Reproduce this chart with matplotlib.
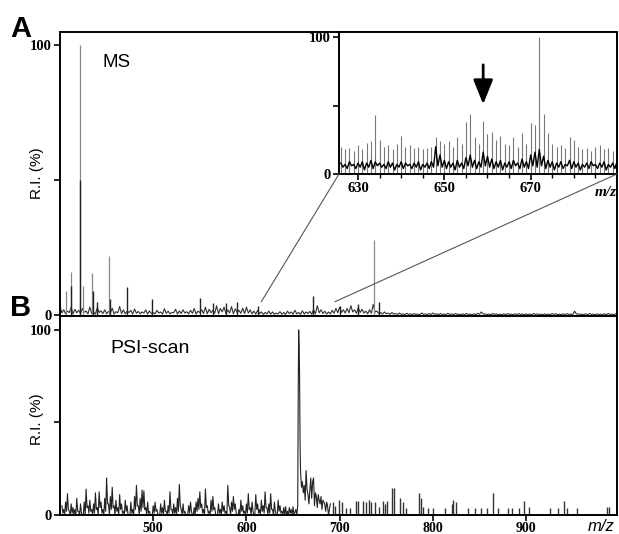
import numpy as np
import matplotlib.pyplot as plt
from matplotlib.patches import ConnectionPatch

plt.rcParams['font.family'] = ['Liberation Sans', 'DejaVu Sans']

# ---- panel A: full MS spectrum ----
ms_base_mz = np.arange(400, 1000, 4)
ms_base_ri = [3.5, 2.0, 1.5, 3.0, 2.2, 1.8, 2.5, 1.5, 3.0, 1.2, 2.8, 1.6, 2.0, 1.4, 2.6, 1.3, 3.2, 2.0, 1.5, 1.8, 2.3, 1.4, 1.2, 2.0, 1.6,
              1.0, 1.8, 1.2, 2.4, 1.5, 1.0, 2.2, 1.6, 2.0, 1.3, 1.8, 2.5, 1.5, 2.0, 3.0, 2.2, 1.8, 3.5, 2.5, 3.0, 2.0, 3.2, 2.4, 1.8, 2.6,
              3.0, 2.0, 1.5, 1.8, 1.2, 1.0, 1.5, 1.2, 0.8, 1.3, 1.0, 1.5, 1.2, 1.8, 1.0, 1.6, 1.2, 1.4, 2.0, 3.5, 2.0, 1.5, 1.2, 1.8, 2.5,
              3.0, 2.0, 2.5, 3.5, 2.0, 2.8, 2.2, 1.5, 2.0, 4.0, 1.5, 1.0, 1.2, 0.8, 1.0, 0.6, 0.8, 0.5, 0.7, 0.5, 0.6, 0.4, 0.8, 0.5, 0.6,
              0.8, 0.5, 0.6, 0.4, 0.7, 0.5, 0.6, 0.4, 0.5, 0.6, 0.4, 0.5, 0.7, 1.2, 0.5, 0.4, 0.6, 0.5, 0.4, 0.5,
              0.6, 0.4, 0.5, 0.6, 0.4, 0.5, 0.4, 0.6, 0.5, 0.4, 0.5, 0.4, 0.6, 0.5, 0.4, 0.5, 0.6, 0.4, 1.5, 0.5,
              0.4, 0.5, 0.6, 0.4, 0.5, 0.4, 0.5, 0.6, 0.4, 0.5]
# valleys between the baseline points (m/z 402, 406, ...)
ms_base_lo = [0.8, 0.5, 1.0, 0.4, 0.9, 0.6, 1.1, 0.5, 0.7, 0.4, 1.0, 0.6, 0.5, 0.8, 0.4, 0.9, 0.6, 0.5, 1.0, 0.4, 0.7, 0.5, 0.8, 0.4, 0.6,
              0.5, 0.8, 0.4, 0.7, 0.5, 0.9, 0.4, 0.6, 0.8, 0.5, 0.7, 0.4, 1.0, 0.6, 0.5, 0.9, 0.7, 0.5, 1.2, 0.6, 0.8, 0.5, 1.0, 0.7, 0.6,
              0.8, 0.5, 0.4, 0.6, 0.3, 0.5, 0.4, 0.3, 0.5, 0.4, 0.3, 0.6, 0.4, 0.5, 0.3, 0.4, 0.6, 0.4, 0.5, 0.9, 0.6, 0.4, 0.5, 0.7, 0.9,
              1.0, 0.8, 0.9, 1.2, 0.7, 1.0, 0.8, 0.5, 0.7, 1.2, 0.5, 0.4, 0.5, 0.3, 0.4, 0.3, 0.3, 0.2, 0.3, 0.2, 0.3, 0.2, 0.3, 0.2, 0.3,
              0.3, 0.2, 0.3, 0.2, 0.3, 0.2, 0.3, 0.2, 0.2, 0.3, 0.2, 0.2, 0.3, 0.4, 0.2, 0.2, 0.3, 0.2, 0.2, 0.2,
              0.3, 0.2, 0.2, 0.3, 0.2, 0.2, 0.2, 0.3, 0.2, 0.2, 0.2, 0.2, 0.3, 0.2, 0.2, 0.2, 0.3, 0.2, 0.4, 0.2,
              0.2, 0.2, 0.3, 0.2, 0.2, 0.2, 0.2, 0.3, 0.2, 0.2]
ms_grey_mz = [406, 411.5, 421, 425, 434.5, 453, 736.5]
ms_grey_ri = [9, 16, 100, 11, 15.5, 22, 28]
ms_dark_mz = [412, 421.6, 435, 440, 454, 472, 499, 550, 564, 578, 590, 612, 671, 700, 720, 742]
ms_dark_ri = [11, 50, 9, 5, 6, 10.5, 6, 6.5, 4.5, 4.5, 5, 3.5, 7, 3.5, 4, 5]
zoom_mz = [616, 695]
zoom_ri = 5

# ---- inset: m/z 626-690 ----
inset_mz = np.arange(626, 691)
inset_ri = [20, 18, 19, 17, 21, 18, 23, 24, 43, 25,
            20, 21, 18, 22, 28, 20, 21, 19, 20, 18,
            19, 20, 27, 24, 22, 24, 20, 27, 22, 38,
            44, 27, 22, 39, 29, 31, 25, 28, 22, 21,
            27, 20, 30, 22, 37, 36, 100, 44, 30, 22,
            20, 21, 19, 27, 25, 20, 18, 19, 17, 20,
            21, 18, 19, 17, 20]
inset_noise_hi = [8, 7, 9, 7, 8, 9, 8, 10, 9, 8,
                  7, 9, 8, 7, 9, 8, 7, 8, 9, 7,
                  8, 9, 20, 14, 10, 9, 8, 10, 8, 12,
                  14, 10, 9, 16, 13, 11, 9, 10, 8, 9,
                  10, 8, 11, 9, 14, 16, 18, 13, 10, 9,
                  8, 9, 7, 10, 9, 8, 7, 8, 9, 7,
                  8, 9, 7, 8, 9]
inset_noise_lo = [5, 4, 6, 4, 5, 3, 5, 4, 6, 5,
                  4, 5, 3, 5, 4, 6, 4, 5, 3, 5,
                  4, 5, 6, 5, 4, 5, 3, 5, 4, 6,
                  5, 4, 5, 6, 5, 4, 5, 3, 5, 4,
                  6, 4, 5, 4, 6, 5, 6, 4, 5, 3,
                  5, 4, 6, 4, 5, 3, 5, 4, 6, 4,
                  5, 3, 5, 4, 5]
arrow_mz = 659

# ---- panel B: PSI-scan ----
psi_noise_mz = np.arange(402, 652, 2)
psi_noise_ri = [5, 3, 7, 11.5, 2, 6, 4, 3, 9, 2,
                6, 0, 7, 14, 5, 8, 3, 6, 12, 4,
                12.5, 7, 3, 9, 20, 6, 10, 15, 5, 8,
                4, 11, 6, 2, 8, 5, 0, 7, 3, 10,
                16, 5, 9, 13.5, 13, 4, 7, 2, 0, 5,
                7, 3, 0, 6, 4, 8, 2, 5, 12.5, 3,
                6, 4, 9, 16.5, 3, 6, 2, 0, 5, 7,
                0, 4, 7, 9, 12.5, 6, 3, 14, 5, 2,
                8, 10, 4, 0, 6, 3, 7, 5, 2, 16,
                4, 7, 10, 6, 0, 3, 8, 5, 2, 6,
                11.5, 4, 7, 0, 11, 6, 3, 8, 5, 12.5,
                4, 6, 11.5, 3, 7, 0, 8, 5, 2, 4,
                4.5, 2, 4, 3, 4.5]
# valleys at m/z 403, 405, ...
psi_noise_lo = [1, 0, 2, 3, 0, 1, 0, 0, 2, 0,
                1, 0, 0, 4, 1, 2, 0, 1, 3, 0,
                4, 1, 0, 2, 6, 0, 3, 4, 0, 2,
                0, 3, 1, 0, 2, 0, 0, 1, 0, 3,
                5, 0, 2, 4, 3, 0, 1, 0, 0, 1,
                2, 0, 0, 1, 0, 2, 0, 1, 3, 0,
                1, 0, 2, 5, 0, 1, 0, 0, 1, 2,
                0, 0, 2, 3, 4, 1, 0, 4, 1, 0,
                2, 3, 0, 0, 1, 0, 2, 1, 0, 5,
                0, 2, 3, 1, 0, 0, 2, 1, 0, 1,
                3, 0, 2, 0, 3, 1, 0, 2, 1, 4,
                0, 1, 3, 0, 2, 0, 2, 1, 0, 0,
                0, 0, 1, 0, 0]
psi_peak_mz = [651, 653, 654, 655, 655.5, 656, 656.5, 657, 657.5, 658,
               659, 660, 661, 662, 663, 664, 665, 666, 667, 668,
               669, 670, 671, 672, 673, 674, 675, 676, 677, 678,
               679, 680, 681, 682, 684, 685, 686, 687, 688, 690]
psi_peak_ri = [0, 3, 0, 5, 60, 100, 92, 75, 40, 24,
               15, 18, 12, 16, 8, 24, 14, 11, 6, 13,
               20, 9, 18, 20, 5, 12, 10, 4, 11, 8,
               6, 10, 3, 8, 6, 2, 7, 5, 0, 6]
psi_stick_mz = [693, 695, 699, 702.5, 707, 711, 717, 720, 725, 728,
                731, 734, 738, 742.5, 747, 749, 751, 756, 758.5, 765,
                768, 771, 785, 787, 789, 794.5, 800, 812.5, 820, 822,
                825, 837.5, 845, 852, 858.5, 864.5, 870, 881, 885, 892,
                897.5, 903, 926, 934.5, 940.5, 944, 955, 987, 989]
psi_stick_ri = [7, 5, 8, 7, 3.6, 3.6, 7.7, 7.7, 7.5, 7,
                8, 7, 7, 4.5, 7.7, 6, 7.7, 14.4, 14.4, 9,
                7, 4, 12, 9, 4.5, 3.6, 3.6, 3.6, 6, 8,
                7, 3.6, 3.6, 3.6, 3.6, 12, 3.6, 3.6, 3.6, 3.6,
                7.7, 4.5, 3.6, 3.6, 7.7, 3.6, 3.6, 4.5, 4.5]

main_ticks = [500, 600, 700, 800, 900]
inset_ticks = [630, 650, 670]

tick_font = dict(family='Liberation Serif', weight='bold', size=10.5)
W, H = 619, 534

fig = plt.figure(figsize=(W / 100, H / 100), dpi=100)


def px_axes(l, t, r, b):
    return fig.add_axes([l / W, (H - b) / H, (r - l) / W, (b - t) / H])


def style(ax, lw=1.4):
    for s in ax.spines.values():
        s.set_linewidth(lw)
    ax.tick_params(direction='out', length=4, width=1.2, pad=2)
    for lab in ax.get_xticklabels() + ax.get_yticklabels():
        lab.set_fontproperties(tick_font)


def interleave(x, hi, lo, step):
    xs = np.ravel(np.column_stack([x, np.asarray(x) + step]))
    ys = np.ravel(np.column_stack([hi, lo]))
    return xs, ys


axA = px_axes(60, 32, 617, 316)
axB = px_axes(60, 316, 617, 515)
axI = px_axes(339, 32, 617, 174)

# panel A
ax_x, ax_y = interleave(ms_base_mz, ms_base_ri, ms_base_lo, 2)
axA.plot(ax_x, ax_y, color='#333333', lw=0.8)
axA.vlines(ms_grey_mz, 0, ms_grey_ri, color='#888888', lw=0.9)
axA.vlines(ms_dark_mz, 0, ms_dark_ri, color='#222222', lw=1.0)
axA.set_xlim(400, 997.5)
axA.set_ylim(-0.3, 105)
axA.set_xticks(main_ticks)
axA.set_xticklabels([])
axA.set_yticks([0, 50, 100])
axA.set_yticklabels(['0', '', '100'])
style(axA)
axA.text(0.077, 0.877, 'MS', transform=axA.transAxes, fontsize=13.5)

# panel B
bx, by = interleave(psi_noise_mz, psi_noise_ri, psi_noise_lo, 1)
axB.plot(bx, by, color='#222222', lw=0.8)
axB.plot(psi_peak_mz, psi_peak_ri, color='#222222', lw=0.8)
axB.vlines(psi_stick_mz, 0, psi_stick_ri, color='#333333', lw=1.0)
axB.set_xlim(400, 997.5)
axB.set_ylim(0, 107.5)
axB.set_xticks(main_ticks)
axB.set_yticks([0, 50, 100])
axB.set_yticklabels(['0', '', '100'])
style(axB)
axB.tick_params(axis='x', pad=1)
for lab in axB.get_xticklabels():
    lab.set_fontsize(10)
axB.text(0.09, 0.814, 'PSI-scan', transform=axB.transAxes, fontsize=14)

# inset
noise_x, noise_y = interleave(inset_mz, inset_noise_hi, inset_noise_lo, 0.5)
axI.vlines(inset_mz, 0, inset_ri, color='#777777', lw=0.8)
axI.plot(noise_x, noise_y, color='black', lw=1.0)
axI.set_xlim(625.6, 690)
axI.set_ylim(0, 104)
axI.set_xticks(inset_ticks)
axI.set_xticks(np.arange(630, 690, 5), minor=True)
axI.set_yticks([0, 50, 100])
axI.set_yticklabels(['0', '', '100'])
style(axI)
axI.tick_params(which='minor', direction='out', length=3, width=1.0)
axI.annotate('', xy=(arrow_mz, 49), xytext=(arrow_mz, 82),
             arrowprops=dict(arrowstyle='-|>,head_width=0.4,head_length=1.0',
                             mutation_scale=15, lw=2, color='black'))
axI.text(0.921, -0.155, 'm/z', transform=axI.transAxes, family='Liberation Serif',
         style='italic', weight='bold', fontsize=11, va='baseline')

# zoom lines from inset corners to the spectrum
for xa, xb in [(0, zoom_mz[0]), (1, zoom_mz[1])]:
    con = ConnectionPatch(xyA=(xa, 0), coordsA=axI.transAxes,
                          xyB=(xb, zoom_ri), coordsB=axA.transData,
                          color='#555555', lw=0.8)
    fig.add_artist(con)

fig.text(588 / W, 3 / H, 'm/z', style='italic', fontsize=12, va='baseline')
fig.text(37 / W, (H - 173) / H, 'R.I. (%)', rotation=90, ha='center', va='center', fontsize=11)
fig.text(37 / W, (H - 419) / H, 'R.I. (%)', rotation=90, ha='center', va='center', fontsize=11)
fig.text(10 / W, (H - 37) / H, 'A', fontsize=21, weight='bold', va='baseline')
fig.text(10 / W, (H - 316) / H, 'B', fontsize=21, weight='bold', va='baseline')

fig.savefig('out.png', dpi=100)
